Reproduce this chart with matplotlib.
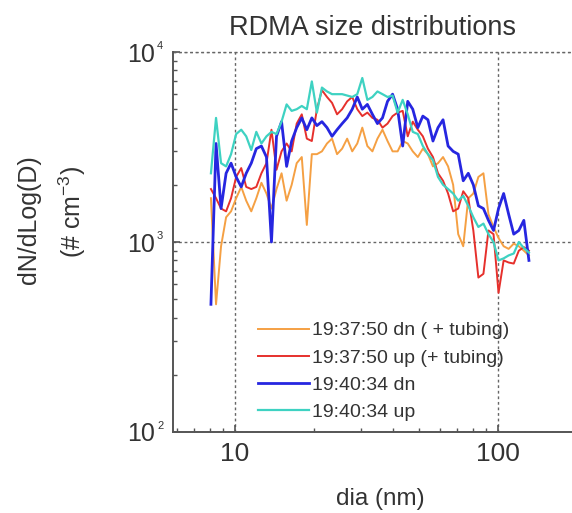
import numpy as np
import matplotlib
matplotlib.use('Agg')
import matplotlib.pyplot as plt
from matplotlib.ticker import LogLocator, NullFormatter

plt.rcParams['font.family'] = ['Liberation Sans', 'DejaVu Sans']
plt.rcParams['mathtext.fontset'] = 'custom'
plt.rcParams['mathtext.rm'] = 'Liberation Sans'

# DMA channel diameters (nm)
dia = [8.10, 8.47, 8.85, 9.25, 9.66, 10.10, 10.56, 11.03, 11.53, 12.05,
       12.60, 13.17, 13.76, 14.38, 15.03, 15.71, 16.42, 17.16, 17.94, 18.75,
       19.59, 20.48, 21.40, 22.37, 23.38, 24.43, 25.54, 26.69, 27.90, 29.16,
       30.47, 31.85, 33.29, 34.79, 36.36, 38.00, 39.72, 41.51, 43.39, 45.35,
       47.39, 49.54, 51.77, 54.11, 56.56, 59.11, 61.78, 64.57, 67.49, 70.54,
       73.72, 77.05, 80.53, 84.17, 87.97, 91.94, 96.10, 100.4, 105.0, 109.7,
       114.7, 119.9, 125.3, 131.0]

# dN/dlogD (# cm-3)
dn_1937 = [1700, 470, 950, 1350, 1450, 1700, 1950, 1650, 1450, 1700,
           2050, 1800, 1500, 1900, 2300, 1650, 2000, 2600, 2800, 1230,
           2900, 2900, 3000, 3300, 3500, 2900, 3100, 3500, 3000, 3300,
           4000, 3200, 3000, 3500, 3900, 3400, 3000, 3000, 3400, 3300,
           3000, 2800, 3100, 2900, 2500, 2600, 2800, 2500, 2000, 1100,
           950, 1700, 1800, 2200, 2300, 1400, 1200, 1050, 950, 920,
           980, 950, 900, 850]
up_1937 = [1900, 1700, 1500, 1450, 1700, 2200, 2450, 1950, 1900, 1950,
           2300, 2600, 3900, 2400, 3000, 3300, 3000, 4200, 4700, 3500,
           3400, 5000, 6300, 5800, 5400, 4700, 5000, 5500, 5800, 5000,
           4600, 4800, 4500, 4400, 4000, 4200, 4600, 4800, 4900, 3600,
           4300, 3900, 3600, 3100, 2800, 2300, 2100, 1800, 1450, 1500,
           1850, 1700, 1150, 650, 680, 1150, 1100, 540, 800, 780,
           770, 900, 940, 900]
dn_1940 = [470, 3300, 1500, 2300, 2600, 2200, 1950, 2300, 2600, 3100,
           3200, 2800, 1000, 3600, 4300, 2500, 3400, 4000, 4500, 3900,
           4500, 4100, 4300, 4000, 3600, 3900, 4200, 4500, 5000, 5800,
           5000, 5300, 4700, 4200, 4500, 5500, 6000, 5000, 3200, 5500,
           5000, 4000, 4600, 4400, 3400, 4000, 4400, 3200, 3000, 2900,
           2100, 2300, 2000, 1550, 1500, 1300, 1150, 1500, 1800, 1400,
           1100, 1150, 1300, 800]
up_1940 = [2300, 4500, 2600, 2500, 2900, 3700, 3900, 3600, 3050, 3800,
           3300, 3600, 3800, 3700, 4300, 5300, 4900, 5000, 5200, 5000,
           7000, 4800, 6500, 6200, 6000, 6000, 6000, 5900, 5800, 6000,
           7300, 5600, 5800, 6200, 6000, 5800, 5900, 4800, 5600, 4700,
           3800, 3700, 3200, 2900, 2700, 2200, 2000, 1900, 1800, 1650,
           1750, 1550, 1350, 1200, 1250, 1100, 1000, 800, 820, 850,
           870, 1000, 930, 880]

y_exponents = [2, 3, 4]
text_col = '#333333'
axis_col = '#555555'

fig = plt.figure(figsize=(5.72, 5.13), dpi=100)
ax = fig.add_axes([0.3024, 0.1579, 0.6976, 0.7407])

ax.plot(dia, dn_1937, color='#f5a043', lw=1.4, label='19:37:50 dn ( + tubing)')
ax.plot(dia, up_1937, color='#e6302c', lw=1.4, label='19:37:50 up (+ tubing)')
ax.plot(dia, dn_1940, color='#2626e0', lw=2.0, label='19:40:34 dn')
ax.plot(dia, up_1940, color='#3ed2c2', lw=1.6, label='19:40:34 up')

ax.set_xscale('log')
ax.set_yscale('log')
ax.set_xlim(5.81, 191)
ax.set_ylim(100, 10000)

ax.set_xticks([10, 100])
ax.set_xticklabels(['10', '100'])
ax.set_yticks([10.0 ** e for e in y_exponents])
ax.set_yticklabels(['10'] * len(y_exponents))
ax.xaxis.set_minor_locator(LogLocator(base=10, subs=np.arange(2, 10)))
ax.yaxis.set_minor_locator(LogLocator(base=10, subs=np.arange(2, 10)))
ax.xaxis.set_minor_formatter(NullFormatter())
ax.yaxis.set_minor_formatter(NullFormatter())

ax.tick_params(which='both', direction='in', colors=axis_col, labelcolor=text_col)
ax.tick_params(which='major', length=5, width=1.2)
ax.tick_params(which='minor', length=3, width=1.0)
ax.tick_params(axis='x', which='major', labelsize=19, pad=7)
ax.tick_params(axis='y', which='major', labelsize=18, pad=13)

# small exponents next to the "10" tick labels
for e in y_exponents:
    ax.annotate(str(e), xy=(0, 10.0 ** e), xycoords=('axes fraction', 'data'),
                xytext=(-11.5, 1), textcoords='offset points',
                fontsize=8, color=text_col, ha='left', va='bottom')

for side in ['top', 'right']:
    ax.spines[side].set_visible(False)
for side in ['left', 'bottom']:
    ax.spines[side].set_color(axis_col)
    ax.spines[side].set_linewidth(1.4)

ax.grid(which='major', linestyle=(0, (2, 2)), color='#666666', lw=1.0)
ax.axhline(10000, linestyle=(0, (2, 2)), color='#666666', lw=1.0, clip_on=False)

ax.set_title('RDMA size distributions', fontsize=19.5, color=text_col, pad=12)
ax.set_xlabel('dia (nm)', fontsize=17.5, color=text_col)
ax.xaxis.set_label_coords(0.519, -0.148)

ax.text(-0.361, 0.56, 'dN/dLog(D)', transform=ax.transAxes, rotation=90,
        ha='center', va='center', fontsize=18, color=text_col)
ax.text(-0.253, 0.58, '(# cm$^{-3}$)', transform=ax.transAxes, rotation=90,
        ha='center', va='center', fontsize=18, color=text_col)

ax.legend(loc='upper left', bbox_to_anchor=(0.214, 0.29), frameon=False,
          fontsize=14, handlelength=2.6, handletextpad=0.15, labelspacing=0.49,
          borderpad=0, borderaxespad=0, labelcolor=text_col)

fig.savefig('out.png', dpi=100)
